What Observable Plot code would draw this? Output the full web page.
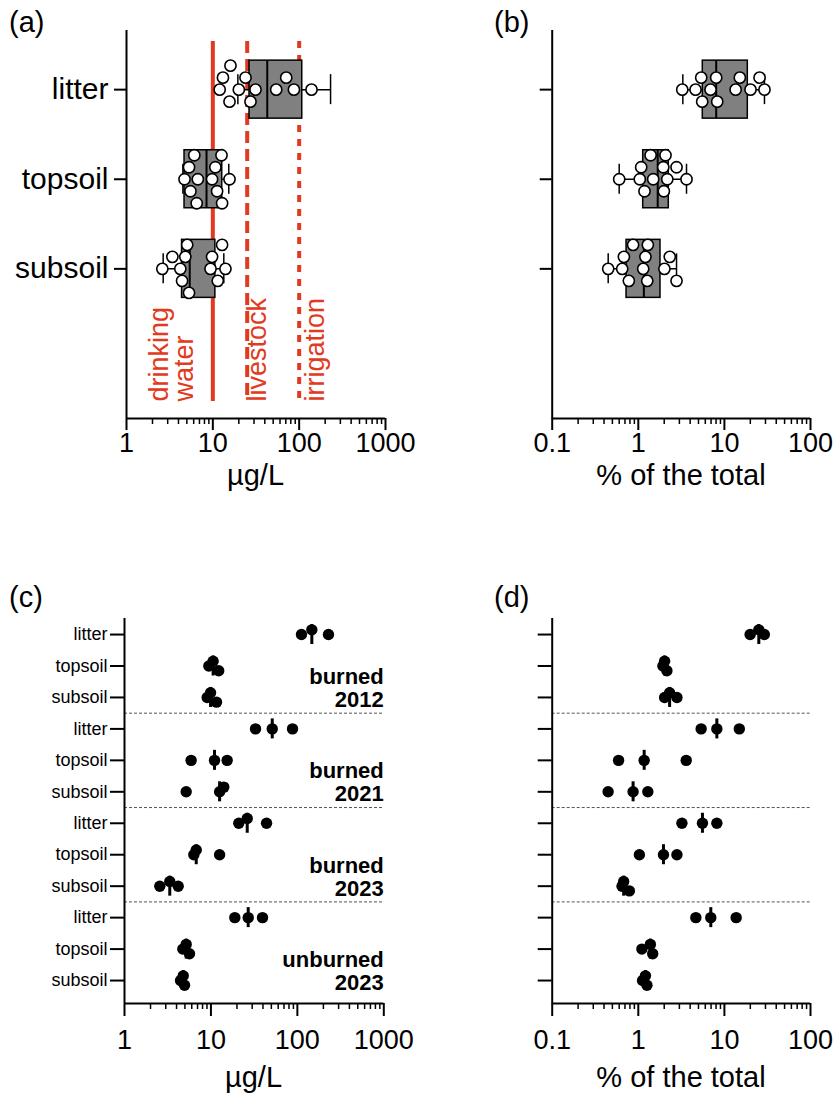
<!DOCTYPE html>
<html><head><meta charset="utf-8">
<script src="https://cdn.jsdelivr.net/npm/d3@7"></script>
<script src="https://cdn.jsdelivr.net/npm/@observablehq/plot@0.6"></script>
<style>
body{margin:0;background:#fff;}
#fig{position:relative;width:837px;height:1098px;font-family:'Liberation Sans',Arial,Helvetica,sans-serif;background:#fff;overflow:hidden;}
.panel{position:absolute;}
.lbl{position:absolute;line-height:1;color:#000;white-space:nowrap;}
</style></head><body><div id="fig"></div>
<script>
// ---------- data ----------
const soils = ["litter", "topsoil", "subsoil"];
// panel (a): concentration, µg/L (12 samples per layer)
const aLitter  = [13.1, 20, 31.2, 15.6, 27.3, 54.2, 86.9, 139, 12, 16, 23.9, 70.8];
const aTopsoil = [4.7, 6.7, 12.6, 6.1, 10.7, 15.6, 5.5, 9.8, 6.5, 11.2, 5.3, 12.8];
const aSubsoil = [5.3, 3.4, 4.8, 11.4, 4.2, 9.8, 14, 2.6, 4.4, 9.4, 5.05, 12.8];
const aQ1  = [26.6, 4.7, 4.4];
const aMed = [42.7, 8.45, 5.4];
const aQ3  = [108.6, 12.85, 10.7];
const aLo  = [19.5, 4.5, 2.66];
const aHi  = [231, 15.3, 13.4];
const guideValues = [10, 25, 100];
const guideLabels = ["drinking\nwater", "livestock", "irrigation"];
// panel (b): % of the total
const bLitter  = [5.38, 8.03, 3.24, 4.62, 6.9, 13.5, 20.1, 29.2, 5.52, 8.25, 15.1, 25.6];
const bTopsoil = [1.18, 2.17, 1.04, 1.49, 2.07, 3.63, 0.60, 1.08, 1.95, 2.78, 1.39, 1.98];
const bSubsoil = [0.65, 1.27, 0.776, 1.21, 2.32, 0.447, 0.68, 1.14, 2.01, 2.78, 0.87, 1.29];
const bQ1  = [5.61, 1.14, 0.73];
const bMed = [8.03, 1.68, 1.16];
const bQ3  = [18.7, 2.26, 1.81];
const bLo  = [3.29, 0.60, 0.447];
const bHi  = [29.2, 3.63, 2.78];
// panels (c),(d): per site
const sites = ["burned\n2012", "burned\n2021", "burned\n2023", "unburned\n2023"];
const cLitter  = [[111.6, 147, 229], [32.8, 51.2, 87.9], [21.0, 26.3, 44.0], [18.9, 27.0, 39.5]];
const cTopsoil = [[10.6, 9.45, 12.3], [5.9, 11.0, 15.4], [6.76, 6.34, 12.6], [4.73, 5.17, 5.65]];
const cSubsoil = [[9.9, 9.05, 11.6], [5.17, 12.6, 14.1], [2.56, 3.34, 4.18], [4.45, 4.78, 4.95]];
const dLitter  = [[19.9, 25.1, 29.1], [5.37, 8.17, 14.9], [3.21, 5.56, 8.17], [4.66, 6.95, 13.7]];
const dTopsoil = [[2.02, 1.93, 2.15], [0.59, 1.17, 3.6], [1.03, 1.96, 2.81], [1.10, 1.38, 1.47]];
const dSubsoil = [[2.31, 2.02, 2.81], [0.446, 0.87, 1.29], [0.676, 0.647, 0.787], [1.12, 1.21, 1.26]];
const ticksConc = [1, 10, 100, 1000];
const ticksPct = [0.1, 1, 10, 100];

// ---------- helpers ----------
const FONT = "'Liberation Sans', Arial, Helvetica, sans-serif";
const RED = "#e23a20";
const fig = document.getElementById("fig");

function minorTicks(major) {
  const out = [];
  for (let k = 0; k < major.length - 1; k++) for (let m = 2; m <= 9; m++) out.push(major[k] * m);
  return out;
}
function dodge(px, minDx, step) {
  const order = d3.range(px.length).sort((a, b) => px[a] - px[b]);
  const cands = [0];
  for (let k = 1; k < 10; k++) cands.push(-k * step, k * step);
  const placed = [], off = new Array(px.length).fill(0);
  for (const i of order) {
    for (const o of cands) {
      if (placed.every(j => Math.abs(px[j] - px[i]) >= minDx || Math.abs(off[j] - o) >= step * 0.99)) { off[i] = o; break; }
    }
    placed.push(i);
  }
  return off;
}
function points(vals, row, pxPerDecade, minDx, step, pxPerUnit) {
  const px = vals.map(v => Math.log10(v) * pxPerDecade);
  const off = dodge(px, minDx, step);
  return vals.map((v, k) => ({v, row, yy: row + off[k] / pxPerUnit}));
}
function place(svg, left, top) {
  const d = document.createElement("div");
  d.className = "panel"; d.style.left = left + "px"; d.style.top = top + "px";
  d.appendChild(svg); fig.appendChild(d);
}
function label(text, x, y, size, anchor) {
  const d = document.createElement("div");
  d.className = "lbl"; d.textContent = text;
  d.style.fontSize = size + "px"; d.style.top = (y - size / 2) + "px";
  if (anchor === "middle") { d.style.left = x + "px"; d.style.transform = "translateX(-50%)"; }
  else d.style.left = x + "px";
  fig.appendChild(d);
}

// ---------- top panels (box + points) ----------
function boxPanel(opts) {
  const {width, mL, mR, domain, major, fmt, groups, q1, med, q3, lo, hi, showLabels, extra} = opts;
  const height = 490, mT = 30, mB = 72;
  const yDom = [-0.66, 3.67];
  const pxPerUnit = (height - mT - mB) / (yDom[1] - yDom[0]);
  const pxPerDecade = (width - mL - mR) / 3;
  const pts = groups.flatMap((vals, i) => points(vals, i, pxPerDecade, 12.5, 12, pxPerUnit));
  const box = soils.map((s, i) => ({i, q1: q1[i], med: med[i], q3: q3[i], lo: lo[i], hi: hi[i]}));
  const BOX = 29 / pxPerUnit, CAP = 15 / pxPerUnit;
  return Plot.plot({
    width, height, marginLeft: mL, marginRight: mR, marginTop: mT, marginBottom: mB,
    style: {fontFamily: FONT, background: "transparent", overflow: "visible", color: "black"},
    x: {type: "log", domain, label: null},
    y: {domain: yDom, reverse: true, label: null},
    marks: [
      ...(extra ? extra() : []),
      Plot.ruleY(box, {y: "i", x1: "lo", x2: "hi", stroke: "black", strokeWidth: 1.5}),
      Plot.ruleX(box, {x: "lo", y1: d => d.i - CAP, y2: d => d.i + CAP, stroke: "black", strokeWidth: 1.5}),
      Plot.ruleX(box, {x: "hi", y1: d => d.i - CAP, y2: d => d.i + CAP, stroke: "black", strokeWidth: 1.5}),
      Plot.rect(box, {x1: "q1", x2: "q3", y1: d => d.i - BOX, y2: d => d.i + BOX, fill: "#808080", stroke: "black", strokeWidth: 1.5}),
      Plot.ruleX(box, {x: "med", y1: d => d.i - BOX, y2: d => d.i + BOX, stroke: "black", strokeWidth: 2}),
      Plot.dot(pts, {x: "v", y: "yy", r: 5.6, fill: "white", stroke: "black", strokeWidth: 1.6}),
      Plot.axisY({ticks: [0, 1, 2], tickFormat: i => showLabels ? soils[i] : "", tickSize: 12, tickPadding: 6, fontSize: 30, strokeWidth: 2, label: null}),
      Plot.axisX({ticks: minorTicks(major), tickFormat: () => "", tickSize: 6, strokeWidth: 1.5, label: null}),
      Plot.axisX({ticks: major, tickFormat: fmt, tickSize: 12, tickPadding: 2, fontSize: 27, strokeWidth: 2, label: null}),
      Plot.ruleY([yDom[1]], {stroke: "black", strokeWidth: 2}),
      Plot.ruleX([domain[0]], {stroke: "black", strokeWidth: 2})
    ]
  });
}

const dashes = [null, "12,6", "7,7"];
const offsets = [-40, 11, 17];
const guides = () => guideValues.flatMap((g, k) => [
  Plot.ruleX([g], {x: d => d, stroke: RED, strokeWidth: 4, strokeDasharray: dashes[k], insetTop: 11, insetBottom: 17}),
  Plot.text([g], {x: d => d, text: () => guideLabels[k], frameAnchor: "bottom", dy: -17, dx: offsets[k], rotate: -90,
    textAnchor: "start", lineAnchor: "middle", fill: RED, fontSize: 27, lineHeight: 0.93})
]);

place(boxPanel({width: 418, mL: 126, mR: 33, domain: [1, 1000], major: ticksConc, fmt: d => String(d),
  groups: [aLitter, aTopsoil, aSubsoil], q1: aQ1, med: aMed, q3: aQ3, lo: aLo, hi: aHi, showLabels: true, extra: guides}), 0, 0);
place(boxPanel({width: 419, mL: 133.7, mR: 27, domain: [0.1, 100], major: ticksPct, fmt: d => String(d),
  groups: [bLitter, bTopsoil, bSubsoil], q1: bQ1, med: bMed, q3: bQ3, lo: bLo, hi: bHi, showLabels: false}), 418, 0);

// ---------- bottom panels (points by site) ----------
function sitePanel(opts) {
  const {width, mL, mR, domain, major, groups, showLabels} = opts;
  const height = 508, mT = 28, mB = 95;
  const yDom = [-0.51, 11.73];
  const pxPerUnit = (height - mT - mB) / (yDom[1] - yDom[0]);
  const pxPerDecade = (width - mL - mR) / 3;
  const pts = [], meds = [];
  sites.forEach((site, g) => groups.forEach((grp, s) => {
    const row = g * 3 + s;
    pts.push(...points(grp[g], row, pxPerDecade, 11, 4.7, pxPerUnit));
    meds.push({row, m: d3.median(grp[g])});
  }));
  const T = 10 / pxPerUnit;
  return Plot.plot({
    width, height, marginLeft: mL, marginRight: mR, marginTop: mT, marginBottom: mB,
    style: {fontFamily: FONT, background: "transparent", overflow: "visible", color: "black"},
    x: {type: "log", domain, label: null},
    y: {domain: yDom, reverse: true, label: null},
    marks: [
      Plot.ruleY(d3.range(1, sites.length).map(g => g * 3 - 0.5), {stroke: "#555", strokeWidth: 1, strokeDasharray: "3,2"}),
      Plot.dot(pts, {x: "v", y: "yy", r: 5.7, fill: "black"}),
      Plot.ruleX(meds, {x: "m", y1: d => d.row - T, y2: d => d.row + T, stroke: "black", strokeWidth: 3}),
      ...(showLabels ? [Plot.text(sites, {text: d => d, y: (d, g) => g * 3 + 1.7, frameAnchor: "right", textAnchor: "end",
        lineAnchor: "middle", fontWeight: "bold", fontSize: 22, lineHeight: 1.05})] : []),
      Plot.axisY({ticks: d3.range(12), tickFormat: i => showLabels ? soils[i % 3] : "", tickSize: 14, tickPadding: 3, fontSize: 18, strokeWidth: 2, label: null}),
      Plot.axisX({ticks: minorTicks(major), tickFormat: () => "", tickSize: 6, strokeWidth: 1.5, label: null}),
      Plot.axisX({ticks: major, tickFormat: d => String(d), tickSize: 13, tickPadding: 13, fontSize: 27, strokeWidth: 2, label: null}),
      Plot.ruleY([yDom[1]], {stroke: "black", strokeWidth: 2}),
      Plot.ruleX([domain[0]], {stroke: "black", strokeWidth: 2})
    ]
  });
}
place(sitePanel({width: 418, mL: 124, mR: 34.7, domain: [1, 1000], major: ticksConc,
  groups: [cLitter, cTopsoil, cSubsoil], showLabels: true}), 0, 590);
place(sitePanel({width: 419, mL: 133.7, mR: 27, domain: [0.1, 100], major: ticksPct,
  groups: [dLitter, dTopsoil, dSubsoil], showLabels: false}), 418, 590);

// ---------- titles ----------
label("(a)", 9, 22, 29);
label("(b)", 494, 22, 29);
label("(c)", 9, 597, 29);
label("(d)", 494, 597, 29);
label("µg/L", 255.5, 475, 29, "middle");
label("% of the total", 681, 475, 29, "middle");
label("µg/L", 253.5, 1077, 29, "middle");
label("% of the total", 681, 1077, 29, "middle");
</script></body></html>
